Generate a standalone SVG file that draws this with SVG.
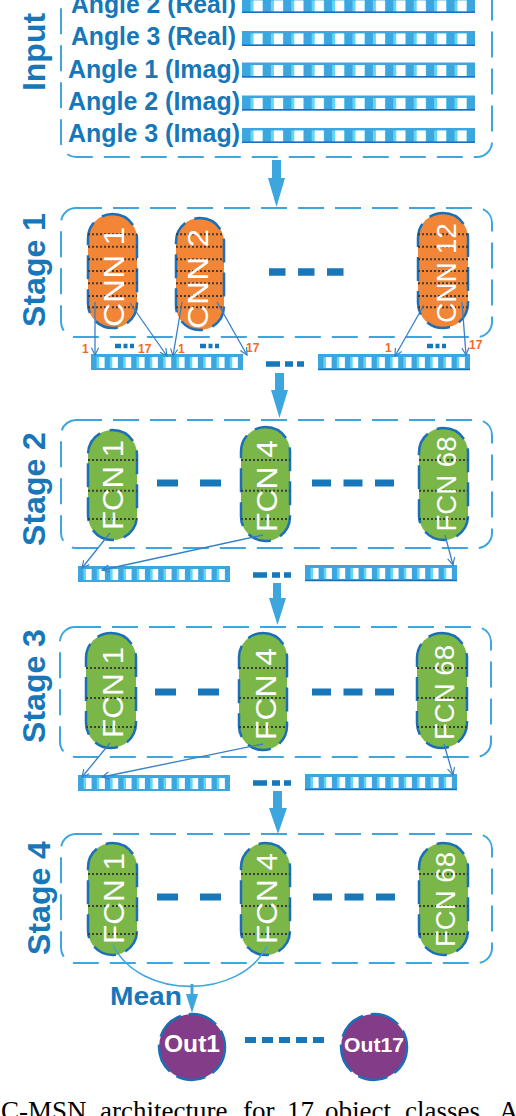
<svg xmlns="http://www.w3.org/2000/svg" xmlns:xlink="http://www.w3.org/1999/xlink" width="516" height="1116" viewBox="0 0 516 1116">
<style>
.box{fill:none;stroke:#3ea6de;stroke-width:2;stroke-dasharray:26 11}
.lbl{font-family:"Liberation Sans",Arial,sans-serif;font-weight:bold;fill:#1777b9}
.ang{font-family:"Liberation Sans",Arial,sans-serif;font-weight:bold;fill:#1777b9;font-size:25px}
.cnn{fill:#f28536;stroke:#1b6fb8;stroke-width:2.5;stroke-dasharray:24 10}
.fcn{fill:#7ab648;stroke:#1b6fb8;stroke-width:2.5;stroke-dasharray:24 10}
.out{fill:#833c87;stroke:#1b6fb8;stroke-width:2.5;stroke-dasharray:30 8}
.dot{stroke:#3d3d3d;stroke-width:2;stroke-dasharray:2 2}
.pt{font-family:"Liberation Sans",Arial,sans-serif;fill:#fff;text-anchor:middle}
.ot{font-family:"Liberation Sans",Arial,sans-serif;font-weight:bold;fill:#fff;text-anchor:middle}
.num{font-family:"Liberation Sans",Arial,sans-serif;font-weight:bold;fill:#f26b1d;font-size:12px}
.dash{stroke:#1777b9;fill:none}
.thin{stroke:#3580c8;stroke-width:1.3;fill:none;marker-end:url(#oa)}
.big{fill:#3ea6de}
.cap{font-family:"Liberation Serif","Times New Roman",serif;font-size:27px;fill:#000}
</style>
<defs>
<marker id="oa" viewBox="0 0 10 10" refX="9" refY="5" markerWidth="9" markerHeight="9" markerUnits="userSpaceOnUse" orient="auto">
<path d="M1,1 L9,5 L1,9" fill="none" stroke="#3580c8" stroke-width="1.3"/>
</marker>
<g id="ibar">
<rect width="233" height="15" fill="#3ea6de"/>
<line x1="8.5" x2="226" y1="8" y2="8" stroke="#62d6f4" stroke-width="11" stroke-dasharray="12.5 7.9"/>
<line x1="11.5" x2="226" y1="8" y2="8" stroke="#fff" stroke-width="11" stroke-dasharray="9 11.4"/>
<line x1="0" x2="233" y1="14.3" y2="14.3" stroke="#1a6fc0" stroke-width="1.5"/>
</g>
<g id="obar">
<rect width="152" height="16" fill="#3ea6de"/>
<line x1="5.5" x2="148" y1="8.5" y2="8.5" stroke="#62d6f4" stroke-width="11" stroke-dasharray="8 5.33"/>
<line x1="8" x2="148" y1="8.5" y2="8.5" stroke="#fff" stroke-width="11" stroke-dasharray="5.5 7.83"/>
</g>
<g id="obar2">
<use xlink:href="#obar"/>
<line x1="0" x2="152" y1="15.5" y2="15.5" stroke="#1a6fc0" stroke-width="1.5"/>
</g>
</defs>
<rect width="516" height="1116" fill="#fff"/>

<g id="input">
<rect class="box" x="61" y="-40" width="431" height="197" rx="15"/>
<text class="lbl" font-size="32" text-anchor="middle" transform="translate(45,52) rotate(-90)">Input</text>
<text class="ang" x="71" y="12.5" textLength="165" lengthAdjust="spacingAndGlyphs">Angle 2 (Real)</text>
<text class="ang" x="71" y="44.5" textLength="165" lengthAdjust="spacingAndGlyphs">Angle 3 (Real)</text>
<text class="ang" x="68" y="77.5" textLength="172" lengthAdjust="spacingAndGlyphs">Angle 1 (Imag)</text>
<text class="ang" x="68" y="109.5" textLength="172" lengthAdjust="spacingAndGlyphs">Angle 2 (Imag)</text>
<text class="ang" x="68" y="141.5" textLength="172" lengthAdjust="spacingAndGlyphs">Angle 3 (Imag)</text>
<use xlink:href="#ibar" x="242" y="-2"/>
<use xlink:href="#ibar" x="242" y="31"/>
<use xlink:href="#ibar" x="242" y="62.5"/>
<use xlink:href="#ibar" x="242" y="95.5"/>
<use xlink:href="#ibar" x="242" y="128"/>
</g>

<g id="stage1">
<rect class="box" x="61" y="208" width="431" height="129" rx="15"/>
<text class="lbl" font-size="32" text-anchor="middle" transform="translate(45,270) rotate(-90)">Stage 1</text>
<line class="dash" x1="269" x2="351" y1="272" y2="272" stroke-width="7.5" stroke-dasharray="16.5 12.5"/>
</g>
<g id="cnn1">
<rect class="cnn" x="88" y="214" width="49" height="114" rx="24.5"/>
<path class="dot" d="M88,234.3H137M88,246.7H137M88,259.3H137M88,271H137M88,283.3H137M88,296H137M88,307.3H137"/>
<text class="pt" font-size="30" textLength="100" lengthAdjust="spacingAndGlyphs" transform="translate(124,277) rotate(-90)">CNN 1</text>
</g>
<g id="cnn2">
<rect class="cnn" x="176" y="218" width="48" height="112" rx="24"/>
<path class="dot" d="M176,234.3H224M176,246.7H224M176,259.3H224M176,271H224M176,283.3H224M176,296H224M176,307.3H224"/>
<text class="pt" font-size="30" textLength="100" lengthAdjust="spacingAndGlyphs" transform="translate(208,279) rotate(-90)">CNN 2</text>
</g>
<g id="cnn12">
<rect class="cnn" x="418" y="213" width="50" height="115" rx="25"/>
<path class="dot" d="M418,234.3H468M418,246.7H468M418,259.3H468M418,271H468M418,283.3H468M418,296H468M418,307.3H468"/>
<text class="pt" font-size="28" textLength="100" lengthAdjust="spacingAndGlyphs" transform="translate(456,273) rotate(-90)">CNN 12</text>
</g>
<g id="s1out">
<use xlink:href="#obar" x="91" y="354"/>
<use xlink:href="#obar2" x="318" y="354"/>
<line class="dash" x1="266" x2="304" y1="364" y2="364" stroke-width="5.5" stroke-dasharray="14 5 8 4 7"/>
<line class="dash" x1="115" x2="134" y1="346" y2="346" stroke-width="4.5" stroke-dasharray="6 2.5 4 2.5 4"/>
<line class="dash" x1="200" x2="219" y1="346" y2="346" stroke-width="4.5" stroke-dasharray="6 2.5 4 2.5 4"/>
<line class="dash" x1="427" x2="446" y1="346" y2="346" stroke-width="4.5" stroke-dasharray="6 2.5 4 2.5 4"/>
<text class="num" x="82" y="353">1</text>
<text class="num" x="138" y="353">17</text>
<text class="num" x="178" y="353">1</text>
<text class="num" x="246" y="352">17</text>
<text class="num" x="385" y="352">1</text>
<text class="num" x="469" y="349">17</text>
</g>

<g id="stage2">
<rect class="box" x="61" y="420" width="431" height="128" rx="15"/>
<text class="lbl" font-size="32" text-anchor="middle" transform="translate(45,489) rotate(-90)">Stage 2</text>
<line class="dash" x1="157" x2="233" y1="483" y2="483" stroke-width="7" stroke-dasharray="21 22"/>
<line class="dash" x1="312" x2="395" y1="483" y2="483" stroke-width="7" stroke-dasharray="19 12.5"/>
</g>
<g id="s2fcn1">
<rect class="fcn" x="88" y="430" width="49" height="110" rx="24.5"/>
<path class="dot" d="M88,460H137M88,490.7H137M88,519H137"/>
<text class="pt" font-size="30" textLength="90" lengthAdjust="spacingAndGlyphs" transform="translate(123,485) rotate(-90)">FCN 1</text>
</g>
<g id="s2fcn4">
<rect class="fcn" x="241" y="427" width="49" height="114" rx="24.5"/>
<path class="dot" d="M241,460H290M241,490.7H290M241,519H290"/>
<text class="pt" font-size="30" textLength="92" lengthAdjust="spacingAndGlyphs" transform="translate(277,486) rotate(-90)">FCN 4</text>
</g>
<g id="s2fcn68">
<rect class="fcn" x="419" y="428" width="49" height="112" rx="24.5"/>
<path class="dot" d="M419,460H468M419,490.7H468M419,519H468"/>
<text class="pt" font-size="28" textLength="95" lengthAdjust="spacingAndGlyphs" transform="translate(456,484) rotate(-90)">FCN 68</text>
</g>
<g id="s2out">
<use xlink:href="#obar" x="78" y="566"/>
<use xlink:href="#obar2" x="305" y="565"/>
<line class="dash" x1="253" x2="291" y1="575" y2="575" stroke-width="5.5" stroke-dasharray="14 5 8 4 7"/>
</g>

<g id="stage3">
<rect class="box" x="60" y="627" width="431" height="130" rx="15"/>
<text class="lbl" font-size="32" text-anchor="middle" transform="translate(45,686) rotate(-90)">Stage 3</text>
<line class="dash" x1="155" x2="230" y1="692" y2="692" stroke-width="7" stroke-dasharray="21 22"/>
<line class="dash" x1="312" x2="394" y1="692" y2="692" stroke-width="7" stroke-dasharray="19 12.5"/>
</g>
<g id="s3fcn1">
<rect class="fcn" x="86" y="633" width="50" height="115" rx="25"/>
<path class="dot" d="M86,668H136M86,698H136M86,727H136"/>
<text class="pt" font-size="30" textLength="91" lengthAdjust="spacingAndGlyphs" transform="translate(123,692.5) rotate(-90)">FCN 1</text>
</g>
<g id="s3fcn4">
<rect class="fcn" x="239" y="633" width="48" height="117" rx="24"/>
<path class="dot" d="M239,668H287M239,698H287M239,727H287"/>
<text class="pt" font-size="30" textLength="92" lengthAdjust="spacingAndGlyphs" transform="translate(276,694) rotate(-90)">FCN 4</text>
</g>
<g id="s3fcn68">
<rect class="fcn" x="417" y="633" width="50" height="115" rx="25"/>
<path class="dot" d="M417,668H467M417,698H467M417,727H467"/>
<text class="pt" font-size="28" textLength="95" lengthAdjust="spacingAndGlyphs" transform="translate(454,692.5) rotate(-90)">FCN 68</text>
</g>
<g id="s3out">
<use xlink:href="#obar" x="78" y="775"/>
<use xlink:href="#obar2" x="305" y="774"/>
<line class="dash" x1="253" x2="291" y1="783" y2="783" stroke-width="5.5" stroke-dasharray="14 5 8 4 7"/>
</g>

<g id="stage4">
<rect class="box" x="61" y="834" width="431" height="129" rx="15"/>
<text class="lbl" font-size="32" text-anchor="middle" transform="translate(50,898) rotate(-90)">Stage 4</text>
<line class="dash" x1="157" x2="233" y1="897" y2="897" stroke-width="7" stroke-dasharray="21 22"/>
<line class="dash" x1="313" x2="395" y1="897" y2="897" stroke-width="7" stroke-dasharray="19 12.5"/>
</g>
<g id="s4fcn1">
<rect class="fcn" x="88" y="843" width="49" height="112" rx="24.5"/>
<path class="dot" d="M88,874H137M88,906H137M88,934H137"/>
<text class="pt" font-size="30" textLength="91" lengthAdjust="spacingAndGlyphs" transform="translate(124,898.5) rotate(-90)">FCN 1</text>
</g>
<g id="s4fcn4">
<rect class="fcn" x="241" y="843" width="49" height="112" rx="24.5"/>
<path class="dot" d="M241,874H290M241,906H290M241,934H290"/>
<text class="pt" font-size="30" textLength="91" lengthAdjust="spacingAndGlyphs" transform="translate(277,898.5) rotate(-90)">FCN 4</text>
</g>
<g id="s4fcn68">
<rect class="fcn" x="419" y="843" width="49" height="112" rx="24.5"/>
<path class="dot" d="M419,874H468M419,906H468M419,934H468"/>
<text class="pt" font-size="28" textLength="95" lengthAdjust="spacingAndGlyphs" transform="translate(455,899.5) rotate(-90)">FCN 68</text>
</g>

<g id="outputs">
<text class="lbl" x="110" y="1005" font-size="26" textLength="72" lengthAdjust="spacingAndGlyphs">Mean</text>
<line class="dash" x1="245" x2="326" y1="1040" y2="1040" stroke-width="6" stroke-dasharray="11 6"/>
<g id="out1">
<circle class="out" cx="192" cy="1047" r="33"/>
<text class="ot" x="192" y="1052" font-size="23" textLength="56" lengthAdjust="spacingAndGlyphs">Out1</text>
</g>
<g id="out17">
<circle class="out" cx="374" cy="1047" r="33"/>
<text class="ot" x="374" y="1052" font-size="21" textLength="60" lengthAdjust="spacingAndGlyphs">Out17</text>
</g>
</g>

<g id="connectors">
<path class="big" d="M272,160H281V178H285L276.5,207L268,178H272Z"/>
<path class="big" d="M275,373H284V390H288L279.5,418L271,390H275Z"/>
<path class="big" d="M273,583H281V598H286L277.5,625L269,598H273Z"/>
<path class="big" d="M273,791H282V808H287L278,834L269,808H273Z"/>
<line class="thin" x1="95" y1="302" x2="95" y2="355"/>
<line class="thin" x1="130" y1="303" x2="167" y2="356"/>
<line class="thin" x1="182" y1="302" x2="173" y2="356"/>
<line class="thin" x1="217" y1="302" x2="247" y2="355"/>
<line class="thin" x1="424" y1="305" x2="395" y2="356"/>
<line class="thin" x1="462" y1="302" x2="466" y2="355"/>
<line class="thin" x1="110" y1="533" x2="82" y2="568"/>
<line class="thin" x1="263" y1="535" x2="102" y2="570"/>
<line class="thin" x1="445" y1="535" x2="453" y2="565"/>
<line class="thin" x1="110" y1="743" x2="82" y2="777"/>
<line class="thin" x1="263" y1="744" x2="102" y2="777"/>
<line class="thin" x1="444" y1="744" x2="453" y2="775"/>
<path d="M113,945C140,1000 240,1000 267,946" fill="none" stroke="#3ea6de" stroke-width="1.6"/>
<line x1="192" y1="984" x2="192" y2="996" stroke="#3ea6de" stroke-width="3"/>
<path class="big" d="M186,994H198L192,1013Z"/>
</g>

<text class="cap" y="1119.5"><tspan x="1">C-MSN</tspan><tspan x="100">architecture</tspan><tspan x="243">for</tspan><tspan x="287">17</tspan><tspan x="325">object</tspan><tspan x="405">classes.</tspan><tspan x="499">A</tspan></text>
</svg>
